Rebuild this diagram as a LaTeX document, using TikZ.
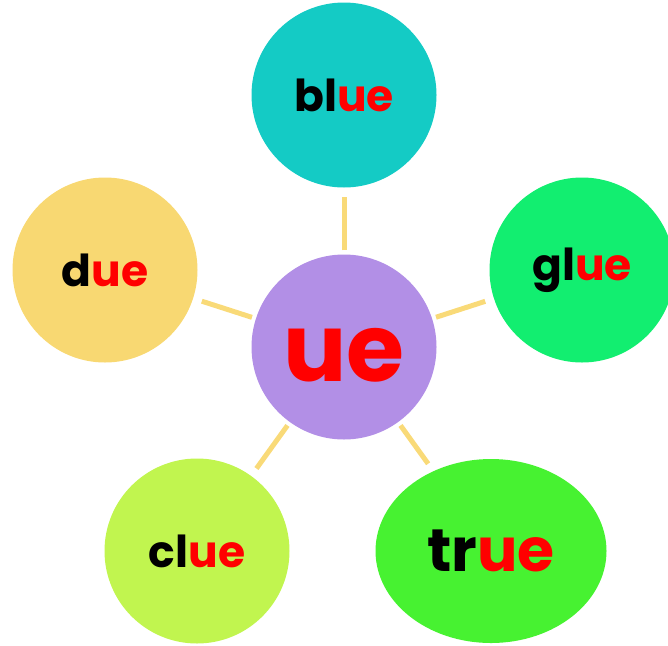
\documentclass[tikz,border=0pt]{standalone}
\usepackage{fontspec}
\setmainfont{Poppins}
\usepackage{tikz}
\usetikzlibrary{shapes.geometric}
\definecolor{hubpurple}{HTML}{B28FE6}
\definecolor{bluecyan}{HTML}{14CBC5}
\definecolor{dueyellow}{HTML}{F8D872}
\definecolor{gluegreen}{HTML}{12EE70}
\definecolor{cluelime}{HTML}{C1F54F}
\definecolor{truegreen}{HTML}{47F231}
\definecolor{spokeyellow}{HTML}{F9DA78}
\definecolor{uered}{HTML}{FF0000}
\newcommand{\ueword}[1]{#1\textcolor{uered}{ue}}

\tikzset{
  wordcircle/.style={circle, minimum size=185pt, inner sep=0pt, font=\fontsize{44}{44}\selectfont\bfseries},
  spoke/.style={draw=spokeyellow, line width=5pt, shorten <=4pt, shorten >=9pt},
}

\begin{document}
\begin{tikzpicture}[x=1pt, y=-1pt]
    \useasboundingbox (0,0) rectangle (668,645);

    % hub
    \node[wordcircle, fill=hubpurple, text height=69pt, text depth=0pt, font=\fontsize{94}{94}\selectfont\bfseries] (hub) at (344,347) {\textcolor{uered}{ue}};

    % the five words round it
    \node[wordcircle, fill=bluecyan] (blue) at (344,95) {\ueword{bl}};
    \node[wordcircle, fill=dueyellow] (due) at (105,270) {\ueword{d}};
    \node[wordcircle, fill=gluegreen] (glue) at (582,270) {\ueword{gl}};
    \node[wordcircle, fill=cluelime] (clue) at (197,551) {\ueword{cl}};
    \node[wordcircle, ellipse, minimum width=231pt, minimum height=184pt, fill=truegreen, font=\fontsize{60}{60}\selectfont\bfseries] (true) at (491,551) {\ueword{tr}};

    % spokes
    \foreach \w in {blue, due, glue, clue, true} {
      \draw[spoke] (hub) -- (\w);
    }
  \end{tikzpicture}
\end{document}
